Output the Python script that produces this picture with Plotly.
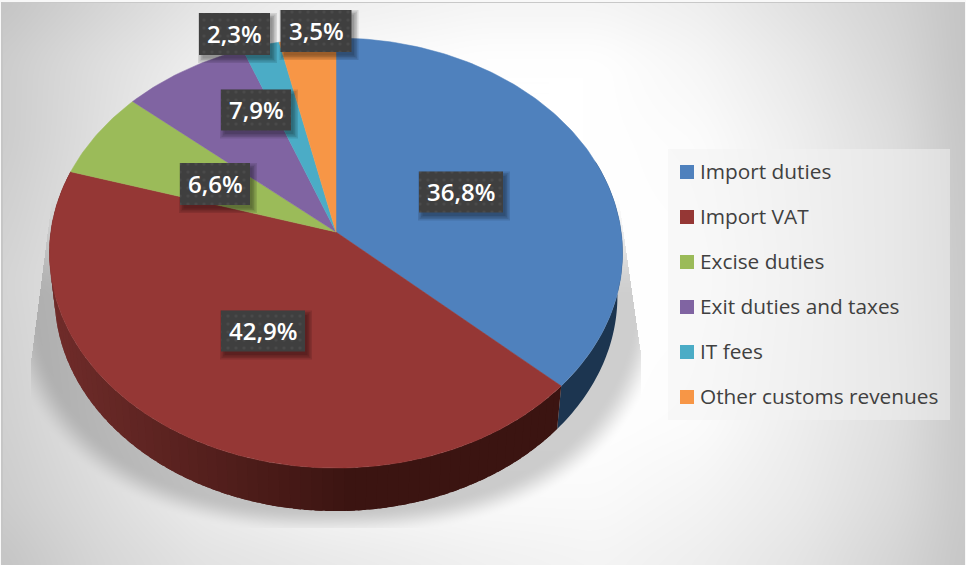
import numpy as np
import plotly.graph_objects as go

# Share of customs revenue by source, in percent
categories = ["Import duties", "Import VAT", "Excise duties",
              "Exit duties and taxes", "IT fees", "Other customs revenues"]
shares = [36.8, 42.9, 6.6, 7.9, 2.3, 3.5]
labels = ["36,8%", "42,9%", "6,6%", "7,9%", "2,3%", "3,5%"]

colors = ["#4f81bd", "#953735", "#9bbb59", "#8064a2", "#4bacc6", "#f79646"]
blue_wall = "#1c3550"
label_centers = [(461, 192), (263, 331), (215, 184), (256, 110), (234.5, 34), (316, 31)]
label_sizes = [(84, 41), (84, 41), (70, 42), (70, 41), (71, 42), (71, 42)]
legend_rows = [172, 217, 262, 307, 352, 397]

W, H = 966, 565
APEX_X, APEX_Y = 336, 232
PERSP = 0.0977      # foreshortening of the disc towards the back
REACH_X, REACH_Y = 285.2, 213.0
WALL_DEPTH = 43
WALL_SCALE = 0.982


def disc(theta_deg):
    """Screen position of a rim point, clockwise from twelve o'clock."""
    t = np.radians(theta_deg)
    sx, cy = np.sin(t), np.cos(t)
    den = 1 + PERSP * cy
    return APEX_X + REACH_X * sx / den, APEX_Y - REACH_Y * cy / den


def base(theta_deg):
    x, y = disc(theta_deg)
    return APEX_X + WALL_SCALE * (x - APEX_X), y + WALL_DEPTH


def backdrop():
    """Soft grey vignette, clipped drop shadow of the pie and the legend panel."""
    gx = [0, 100, 200, 320, 480, 600, 700, 800, 900, 966]
    gy = [0, 60, 140, 280, 420, 500, 565]
    grid = np.array([
        [196, 212, 228, 238, 244, 244, 238, 224, 210, 196],
        [204, 222, 238, 250, 255, 255, 246, 232, 214, 196],
        [204, 224, 245, 255, 255, 255, 252, 238, 220, 198],
        [212, 228, 248, 255, 255, 255, 255, 240, 220, 200],
        [208, 226, 244, 255, 255, 255, 252, 238, 222, 200],
        [204, 220, 236, 246, 250, 250, 244, 234, 218, 200],
        [196, 214, 226, 232, 240, 244, 238, 228, 212, 198],
    ], dtype=float)
    by_col = np.array([np.interp(np.arange(H), gy, grid[:, j]) for j in range(len(gx))])
    img = np.array([np.interp(np.arange(W), gx, by_col[:, i]) for i in range(H)])

    def smooth(a, n, axis):
        pad = [(n, n) if k == axis else (0, 0) for k in range(2)]
        a2 = np.pad(a, pad, mode="edge")
        c = np.cumsum(a2, axis=axis)
        if axis == 0:
            return (c[2 * n:, :] - np.vstack([np.zeros((1, c.shape[1])), c[:-2 * n - 1, :]])) / (2 * n + 1)
        return (c[:, 2 * n:] - np.hstack([np.zeros((c.shape[0], 1)), c[:, :-2 * n - 1]])) / (2 * n + 1)

    img = smooth(smooth(img, 18, 0), 18, 1)

    yy, xx = np.mgrid[0:H, 0:W]
    p = 2.4
    rho = (np.abs((xx - 335) / 335.0) ** p + np.abs((yy - 265) / 270.0) ** p) ** (1 / p)
    t = np.clip((1.0 - rho) / 0.10, 0, 1)
    fade = t * t * (3 - 2 * t)
    v = np.clip((yy - 188) / 110.0, 0, 1)
    fade = fade * v * v * (3 - 2 * v)
    inside = (
        (yy <= 527) & (xx >= 31) & (xx <= 640)
        & (xx >= 52 - (yy - 195) * 0.129)
        & (xx <= 617 + (yy - 190) * 23 / 160.0)
    )
    img = img * (1 - 0.19 * fade * inside)

    # Translucent panel behind the key
    img[149:420, 668:950] = 0.5 * img[149:420, 668:950] + 0.5 * 243

    # Thin frame around the plot area
    img[:3, :] = 200
    img[:, :3] = 198
    img[:2, :] = 248
    img[:, :1] = 248
    img[:, W - 1:] = 248
    return np.clip(img, 0, 255).astype(np.uint8)


fig = go.Figure()
fig.add_trace(go.Heatmap(
    z=backdrop(), x0=0.5, dx=1, y0=0.5, dy=1, zmin=0, zmax=255,
    colorscale=[[0, "#000000"], [1, "#ffffff"]],
    showscale=False, hoverinfo="skip", zsmooth=False,
))

# Slice boundaries, in degrees clockwise from the top
edges = np.concatenate([[0], np.cumsum(shares)]) * 3.6


def wall_color(x):
    k = np.clip((x - 50) / 300.0, 0, 1)
    a, b = (112, 44, 42), (59, 20, 17)
    return "rgb({},{},{})".format(*[int(round(p + (q - p) * k)) for p, q in zip(a, b)])


def add_wall(t0, t1, color):
    th = np.linspace(t0, t1, max(2, int(t1 - t0) + 2))
    tx, ty = disc(th)
    bx, by = base(th)
    fig.add_trace(go.Scatter(
        x=np.concatenate([tx, bx[::-1], tx[:1]]),
        y=np.concatenate([ty, by[::-1], ty[:1]]),
        mode="none", fill="toself", fillcolor=color,
        showlegend=False, hoverinfo="skip",
    ))


# Outer wall of the disc: navy under the first slice, shaded under the second.
# Each strip runs a little under the next one so no seams show.
add_wall(70, edges[1], blue_wall)
steps = np.arange(edges[1], edges[2], 2.0).tolist() + [edges[2]]
for a, b in zip(steps[:-1], steps[1:]):
    mx, _ = disc((a + b) / 2)
    add_wall(a, min(b + 1.5, edges[2]), wall_color(mx))

# Top face, one filled trace per slice
for i, name in enumerate(categories):
    th = np.linspace(edges[i], edges[i + 1], max(3, int(edges[i + 1] - edges[i]) + 2))
    rx, ry = disc(th)
    fig.add_trace(go.Scatter(
        x=np.concatenate([[APEX_X], rx, [APEX_X]]),
        y=np.concatenate([[APEX_Y], ry, [APEX_Y]]),
        mode="lines", fill="toself", fillcolor=colors[i],
        line=dict(color=colors[i], width=0.5),
        name=name, showlegend=False, text=labels[i], hoverinfo="name+text",
    ))

# Key: square swatches beside each revenue source
fig.add_trace(go.Scatter(
    x=[687] * len(categories), y=legend_rows, mode="markers",
    marker=dict(symbol="square", size=14, color=colors, line=dict(width=0)),
    showlegend=False, text=categories, hoverinfo="text",
))
for name, row in zip(categories, legend_rows):
    fig.add_annotation(
        x=700, y=row - 1, text=name, showarrow=False, xanchor="left", yanchor="middle",
        xshift=-2, font=dict(family="Open Sans", size=20.8, color="#404040"),
    )


def box(cx, cy, w, h, grow=0.0):
    x0, x1 = cx - w / 2 - grow, cx + w / 2 + grow
    y0, y1 = cy - h / 2 - grow, cy + h / 2 + grow
    return [x0, x1, x1, x0, x0], [y0, y0, y1, y1, y0]


# Value labels: soft shadow, dotted dark plate, white text
for (cx, cy), (w, h), txt in zip(label_centers, label_sizes, labels):
    for grow in (4, 2.5, 1, -0.5):
        sx, sy = box(cx + 3, cy + 4, w, h, grow)
        fig.add_trace(go.Scatter(
            x=sx, y=sy, mode="lines", fill="toself", fillcolor="rgba(0,0,0,0.11)",
            line=dict(width=0), showlegend=False, hoverinfo="skip",
        ))
    bx, by = box(cx, cy, w, h)
    fig.add_trace(go.Scatter(
        x=bx, y=by, mode="lines", fill="toself",
        fillpattern=dict(shape=".", size=8, solidity=0.12,
                         fgcolor="#565656", bgcolor="#3f3f3f"),
        line=dict(width=0), showlegend=False, hoverinfo="skip",
    ))
    fig.add_annotation(
        x=cx, y=cy - 1, text=txt, showarrow=False, xanchor="center", yanchor="middle",
        font=dict(family="Open Sans", size=24, color="#ffffff", weight=600),
    )

fig.update_layout(
    width=W, height=H, margin=dict(l=0, r=0, t=0, b=0),
    paper_bgcolor="#ffffff", plot_bgcolor="#ffffff",
    xaxis=dict(range=[0, W], visible=False, fixedrange=True),
    yaxis=dict(range=[H, 0], visible=False, fixedrange=True),
    showlegend=False,
)

fig.write_html("out.html")
